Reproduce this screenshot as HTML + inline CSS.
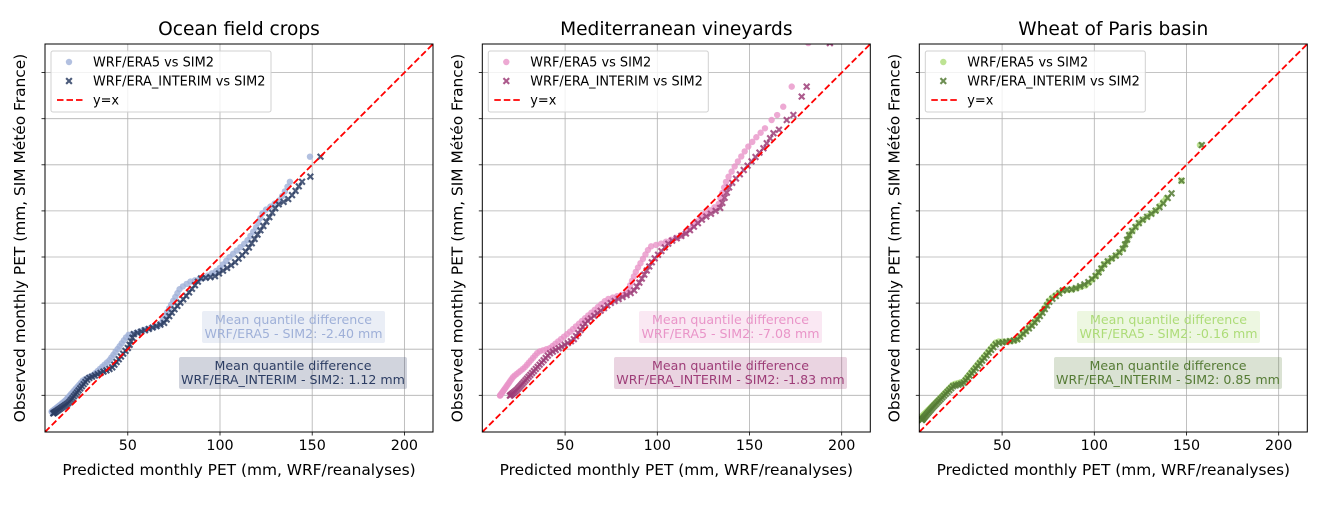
<!DOCTYPE html>
<html><head><meta charset="utf-8"><style>
body{margin:0;background:#fff}
svg text{font-family:"DejaVu Sans","Liberation Sans",sans-serif}
</style></head><body>
<svg id="s" width="1330" height="502" xmlns="http://www.w3.org/2000/svg"></svg>
<script>
const S=document.getElementById('s');let h='';
const K=1.844;
const panels=[
 {L:45,title:"Ocean field crops",c1:"#9fb0d8",c2:"#2c3d63",
  a:[[8.7,16.1],[16,22],[25.9,33.3],[31.3,36],[40,44],[50,57.7],[52.8,58.2],[58.4,60.4],[67.5,63],[72.9,73],[78.3,83],[83.7,86.6],[91,88.6],[99,93],[105.4,100.2],[114.4,108.3],[119.8,116.4],[123.4,124.6],[132.4,130.9],[136.2,137.3],[137.9,140.8]],ea:[[148.8,154.4]],
  b:[[9.6,15.2],[18,21],[28.6,34.2],[41.3,39.8],[50.6,51.4],[53.3,58.2],[62.3,61.3],[69.5,64],[75,71.3],[81.3,78.5],[89.5,88.4],[96.8,89.3],[107.6,96.6],[114.8,103.8],[122,114.6],[125.7,120],[131.1,128.2],[136.5,130.9],[140,134.5],[144.5,140.8]],eb:[[149,143.6],[154.5,154.4]],
  t1:"WRF/ERA5 - SIM2: -2.40 mm",t2:"WRF/ERA_INTERIM - SIM2: 1.12 mm",b1:[202,385],b2:[179,407]},
 {L:482.3,title:"Mediterranean vineyards",c1:"#e994c8",c2:"#9e3d78",
  a:[[14.7,24.8],[21.9,35.1],[28,40],[35.5,48.6],[41.8,50.6],[52.7,59.5],[61.7,67.6],[72.6,77],[83.4,80.3],[88.8,93],[96,105.6],[102.4,107.4],[114.1,111.9],[126.8,124.5],[133.1,128.2],[137.6,141.8],[143,150.8],[148.5,158.9],[153.9,165.2],[158.4,169.8]],ea:[[162,174.3],[165,177],[168.3,181.5],[172.9,192.4],[181.9,216]],
  b:[[20.1,24.8],[23.8,27.9],[32,37],[41.8,47.8],[54.4,55],[61.7,64.9],[74.4,74.9],[87,81.2],[90.6,86.6],[97.8,98.4],[106.9,108.3],[115.9,112.9],[125,121],[134,126.4],[139.5,139],[148.5,149],[157.5,158.9],[163,167.1]],eb:[[166,169],[170.2,174.3],[173.8,177],[178.3,187],[181,192.4],[193.6,216]],
  t1:"WRF/ERA5 - SIM2: -7.08 mm",t2:"WRF/ERA_INTERIM - SIM2: -1.83 mm",b1:[639,822],b2:[614,847]},
 {L:919.3,title:"Wheat of Paris basin",c1:"#addc78",c2:"#557b35",
  a:[[5.5,12.6],[12.7,19.8],[23.5,31],[29,32.5],[38,43.4],[47,54.2],[52.5,54.1],[57.9,55],[66.9,64],[72.3,71.3],[75.9,77.2],[83.2,82.1],[88.6,82.5],[95.9,84.7],[101.3,90.2],[105.8,96.6],[112.2,101.1],[115.7,104.7],[119.3,112.8],[124.8,119.1],[133.8,125.5],[137.4,130.1]],ea:[[139,132],[147.3,141.4],[157.3,160.7]],
  b:[[6.5,11.6],[12.7,18.8],[23.5,30],[29,31.5],[38,42.4],[47,53.2],[52.5,54.1],[57.9,55],[66.9,63.5],[72.3,70.3],[75.9,76.2],[83.2,82.1],[88.6,82.5],[95.9,85.7],[101.3,90.2],[105.8,96.6],[112.2,101.1],[115.7,104.7],[119.3,112.8],[124.8,119.1],[133.8,125.5],[137.4,129.1]],eb:[[139.8,132],[141.9,134.5],[147.3,141.4],[158.3,160.7]],
  t1:"WRF/ERA5 - SIM2: -0.16 mm",t2:"WRF/ERA_INTERIM - SIM2: 0.85 mm",b1:[1077,1260],b2:[1054,1282]}
];
function sample(pts,n){
 const seg=[];let tot=0;
 for(let i=1;i<pts.length;i++){const d=Math.hypot(pts[i][0]-pts[i-1][0],pts[i][1]-pts[i-1][1]);seg.push(d);tot+=d;}
 const out=[];
 for(let k=0;k<n;k++){let t=Math.pow(k/(n-1),1.5)*tot;let i=0;while(i<seg.length-1&&t>seg[i]){t-=seg[i];i++;}
  const f=Math.min(1,t/seg[i]);out.push([pts[i][0]+(pts[i+1][0]-pts[i][0])*f,pts[i][1]+(pts[i+1][1]-pts[i][1])*f]);}
 return out;}
function X(x,y,c){const s=3.6,w=1.5;return `<path d="M${x-s} ${y-s+w}L${x-w} ${y}L${x-s} ${y+s-w}L${x-s+w} ${y+s}L${x} ${y+w}L${x+s-w} ${y+s}L${x+s} ${y+s-w}L${x+w} ${y}L${x+s} ${y-s+w}L${x+s-w} ${y-s}L${x} ${y-w}L${x-s+w} ${y-s}Z" fill="${c}" fill-opacity="0.85"/>`;}
panels.forEach((p,pi)=>{
 const L=p.L,R=L+388,T=44,B=432;
 const px=v=>L+(v-5.1)*K, py=v=>B-(v-5.1)*K;
 h+=`<defs><clipPath id="c${pi}"><rect x="${L}" y="${T}" width="388" height="388"/></clipPath></defs>`;
 [50,100,150,200].forEach(v=>{const x=px(v);h+=`<line x1="${x}" y1="${T}" x2="${x}" y2="${B}" stroke="#b0b0b0" stroke-width="0.8"/><line x1="${x}" y1="${B}" x2="${x}" y2="${B+3.5}" stroke="#000" stroke-width="0.8"/><text x="${x}" y="${B+18}" font-size="14.3" text-anchor="middle">${v}</text>`;});
 for(let v=25;v<=200;v+=25){const y=py(v);h+=`<line x1="${L}" y1="${y}" x2="${R}" y2="${y}" stroke="#b0b0b0" stroke-width="0.8"/><line x1="${L-3.5}" y1="${y}" x2="${L}" y2="${y}" stroke="#000" stroke-width="0.8"/>`;}
 h+=`<g clip-path="url(#c${pi})">`;
 sample(p.a,95).concat(p.ea).forEach(q=>{h+=`<circle cx="${px(q[0])}" cy="${py(q[1])}" r="3.2" fill="${p.c1}" fill-opacity="0.8"/>`;});
 sample(p.b,95).concat(p.eb).forEach(q=>{h+=X(px(q[0]),py(q[1]),p.c2);});
 h+=`<line x1="${L}" y1="${B}" x2="${R}" y2="${T}" stroke="#ff0000" stroke-width="1.8" stroke-dasharray="6.5,3"/></g>`;
 h+=`<rect x="${L}" y="${T}" width="388" height="388" fill="none" stroke="#000" stroke-width="1"/>`;
 h+=`<text x="${L+194}" y="35" font-size="18.6" text-anchor="middle">${p.title}</text>`;
 h+=`<text x="${L+194}" y="475" font-size="15.4" text-anchor="middle">Predicted monthly PET (mm, WRF/reanalyses)</text>`;
 h+=`<text transform="translate(${L-20},238) rotate(-90)" font-size="15.4" text-anchor="middle">Observed monthly PET (mm, SIM Météo France)</text>`;
 h+=`<rect x="${L+6}" y="51" width="220" height="61" rx="2" fill="#fff" fill-opacity="0.8" stroke="#d0d0d0"/>`;
 h+=`<circle cx="${L+24}" cy="62" r="3.2" fill="${p.c1}" fill-opacity="0.8"/><text x="${L+48}" y="66.5" font-size="12.9">WRF/ERA5 vs SIM2</text>`;
 h+=X(L+24,81,p.c2)+`<text x="${L+48}" y="85.5" font-size="12.9">WRF/ERA_INTERIM vs SIM2</text>`;
 h+=`<line x1="${L+12}" y1="100" x2="${L+38}" y2="100" stroke="#ff0000" stroke-width="1.8" stroke-dasharray="6.5,3"/><text x="${L+48}" y="104.5" font-size="12.9">y=x</text>`;
 const m1=(p.b1[0]+p.b1[1])/2,m2=(p.b2[0]+p.b2[1])/2;
 h+=`<rect x="${p.b1[0]}" y="311" width="${p.b1[1]-p.b1[0]}" height="32" rx="2" fill="${p.c1}" fill-opacity="0.22"/>`;
 h+=`<text x="${m1}" y="324" font-size="12.6" text-anchor="middle" fill="${p.c1}">Mean quantile difference</text><text x="${m1}" y="338" font-size="12.6" text-anchor="middle" fill="${p.c1}">${p.t1}</text>`;
 h+=`<rect x="${p.b2[0]}" y="357" width="${p.b2[1]-p.b2[0]}" height="32" rx="2" fill="${p.c2}" fill-opacity="0.22"/>`;
 h+=`<text x="${m2}" y="370" font-size="12.6" text-anchor="middle" fill="${p.c2}">Mean quantile difference</text><text x="${m2}" y="384" font-size="12.6" text-anchor="middle" fill="${p.c2}">${p.t2}</text>`;
});
S.innerHTML=h;
</script>
</body></html>
